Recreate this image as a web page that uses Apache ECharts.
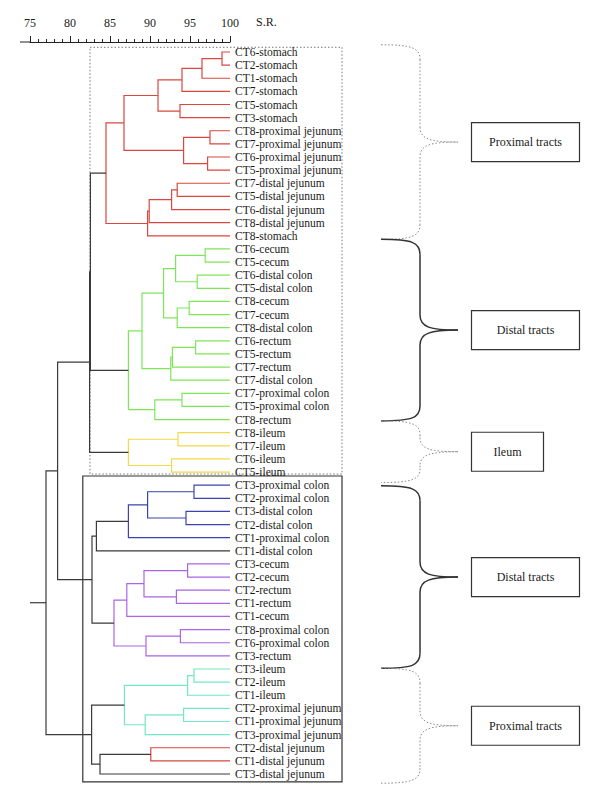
<!DOCTYPE html>
<html><head><meta charset="utf-8">
<script src="https://cdn.jsdelivr.net/npm/echarts@6/dist/echarts.min.js"></script>
<style>html,body{margin:0;padding:0;background:#fff}#c{width:600px;height:805px}</style>
</head><body><div id="c"></div>
<script>
// ---- data ----
const leaves = [
 'CT6-stomach','CT2-stomach','CT1-stomach','CT7-stomach','CT5-stomach','CT3-stomach',
 'CT8-proximal jejunum','CT7-proximal jejunum','CT6-proximal jejunum','CT5-proximal jejunum',
 'CT7-distal jejunum','CT5-distal jejunum','CT6-distal jejunum','CT8-distal jejunum','CT8-stomach',
 'CT6-cecum','CT5-cecum','CT6-distal colon','CT5-distal colon','CT8-cecum','CT7-cecum','CT8-distal colon',
 'CT6-rectum','CT5-rectum','CT7-rectum','CT7-distal colon','CT7-proximal colon','CT5-proximal colon','CT8-rectum',
 'CT8-ileum','CT7-ileum','CT6-ileum','CT5-ileum',
 'CT3-proximal colon','CT2-proximal colon','CT3-distal colon','CT2-distal colon','CT1-proximal colon','CT1-distal colon',
 'CT3-cecum','CT2-cecum','CT2-rectum','CT1-rectum','CT1-cecum','CT8-proximal colon','CT6-proximal colon','CT3-rectum',
 'CT3-ileum','CT2-ileum','CT1-ileum','CT2-proximal jejunum','CT1-proximal jejunum','CT3-proximal jejunum',
 'CT2-distal jejunum','CT1-distal jejunum','CT3-distal jejunum'
];
// [childA, childB, similarity] ; number = leaf index, 'mN' = merge N
const merges = [
 [0,1,99.0],['m0',2,96.5],['m1',3,94.0],[4,5,93.75],['m2','m3',91.0],
 [6,7,97.5],[8,9,97.2],['m5','m6',94.2],['m4','m7',86.75],
 [10,11,93.4],['m9',12,92.7],['m10',13,89.9],['m11',14,89.7],['m8','m12',84.5],
 [15,16,96.9],[17,18,95.9],['m14','m15',93.2],[19,20,94.9],['m17',21,93.4],['m16','m18',91.7],
 [22,23,95.7],['m20',24,92.8],['m21',25,92.6],['m19','m22',89.0],[26,27,94.0],['m24',28,90.6],['m23','m25',87.3],
 ['m13','m26',82.55],
 [29,30,93.5],[31,32,92.7],['m28','m29',87.3],
 ['m27','m30',82.45],
 [33,34,95.5],[35,36,94.5],['m32','m33',89.7],['m34',37,87.3],
 ['m35',38,83.3],
 [39,40,94.7],[41,42,93.3],['m37','m38',89.25],['m39',43,87.1],[44,45,93.8],['m41',46,89.5],['m40','m42',85.5],
 ['m36','m43',82.75],['m31','m44',78.45],
 [47,48,95.5],['m46',49,94.7],[50,51,94.2],['m48',52,89.4],['m47','m49',86.8],
 [53,54,90.1],['m51',55,83.75],['m50','m52',82.7],
 ['m45','m53',77.0]
];
const clusterOfMerge = 'rrrrrrrrrrrrrr' + 'ggggggggggggg' + 'k' + 'yyy' + 'k' + 'bbbb' + 'k' + 'ppppppp' + 'kk' + 'ccccc' + 'r' + 'kkk';
const axisTicks = [75, 80, 85, 90, 95, 100];
const axisName = 'S.R.';
const braceSpans = [[-0.55,14.27],[14.27,28.1],[28.1,32.8],[33.05,46.95],[46.95,55.7]];
const braceLabels = ['Proximal tracts','Distal tracts','Ileum','Distal tracts','Proximal tracts'];

// ---- styles ----
const palette = {r:'#d9473f', g:'#7fe65a', y:'#f2d94a', b:'#3a44b0', p:'#a866e6', c:'#72e8c6', k:'#3a3a3a'};
const braceDotted = [true,false,true,false,true];
const boxWidths = [108,108,72,108,108];
const FONT = '"Liberation Serif","DejaVu Serif",serif';

// ---- tree layout in data space ----
const pos = {};
function childPos(c){ return typeof c === 'number' ? {x:100, y:c} : pos[c]; }
const segData = merges.map((m, i) => {
  const a = childPos(m[0]), b = childPos(m[1]);
  pos['m'+i] = {x:m[2], y:(a.y + b.y)/2};
  return [m[2], a.x, a.y, b.x, b.y, i];
});
const root = pos['m'+(merges.length-1)];

const chart = echarts.init(document.getElementById('c'), null, {renderer:'svg'});
const option = {
  animation:false,
  backgroundColor:'#fff',
  grid:{left:30, right:370, top:52, bottom:31},
  xAxis:{
    type:'value', position:'top', offset:10, min:axisTicks[0], max:axisTicks[axisTicks.length-1], interval:5,
    axisLine:{show:true, onZero:false, lineStyle:{color:'#222', width:1}},
    axisTick:{show:true, length:6, lineStyle:{color:'#222'}},
    minorTick:{show:true, splitNumber:5, length:3, lineStyle:{color:'#222'}},
    splitLine:{show:false}, minorSplitLine:{show:false},
    axisLabel:{margin:13, color:'#222', fontFamily:FONT, fontSize:12}
  },
  yAxis:{type:'value', inverse:true, min:0, max:leaves.length-1, show:false},
  series:[
    {
      type:'custom', clip:false, data:segData,
      renderItem:(params, api) => {
        const d = segData[params.dataIndex];
        const pA = api.coord([d[1], d[2]]), pB = api.coord([d[3], d[4]]);
        const nA = api.coord([d[0], d[2]]), nB = api.coord([d[0], d[4]]);
        return {type:'polyline', shape:{points:[pA, nA, nB, pB]},
          style:{stroke:palette[clusterOfMerge[d[5]]], lineWidth:1.2, fill:null}};
      }
    },
    {
      type:'line', data:[[axisTicks[0], root.y],[root.x, root.y]], symbol:'none',
      lineStyle:{color:palette.k, width:1.2}, silent:true
    },
    {
      type:'custom', clip:false, data:leaves.map((l,i)=>[100,i]),
      renderItem:(params, api) => {
        const p = api.coord([100, params.dataIndex]);
        return {type:'text', x:p[0]+5, y:p[1], style:{text:leaves[params.dataIndex], fill:'#1a1a1a',
          font:'11.5px ' + FONT, verticalAlign:'middle', align:'left'}};
      }
    }
  ]
};
chart.setOption(option);

// ---- annotations (frames, braces, boxes) positioned via the grid's scales ----
const px = (x, y) => chart.convertToPixel({gridIndex:0}, [x, y]);
const g = [];
const a75 = px(75, 0), a100 = px(100, 0);
const axisY = px(75, 0)[1] - 10;
g.push({type:'text', x:a100[0]+26, y:22, style:{text:axisName, font:'12px '+FONT, fill:'#222', verticalAlign:'middle'}});
// frames
const fr1a = px(82.5, -0.36), fr1b = px(114, 32.15);
g.push({type:'rect', shape:{x:fr1a[0], y:fr1a[1], width:fr1b[0]-fr1a[0], height:fr1b[1]-fr1a[1]},
  style:{fill:'none', stroke:'#777', lineWidth:1, lineDash:[1.5,2]}});
const fr2a = px(81.6, 32.3), fr2b = px(114, 55.6);
g.push({type:'rect', shape:{x:fr2a[0], y:fr2a[1], width:fr2b[0]-fr2a[0], height:fr2b[1]-fr2a[1]},
  style:{fill:'none', stroke:'#333', lineWidth:1.2}});
// braces
const x0 = 381, xv = 420, xt = 458, bx = 471.5;
braceSpans.forEach((s, i) => {
  const yT = px(0, s[0])[1], yB = px(0, s[1])[1], yM = (yT + yB)/2;
  const r = Math.min(15, (yM - yT)/2.2);
  const st = braceDotted[i]
    ? {fill:null, stroke:'#888', lineWidth:1, lineDash:[1.5,2]}
    : {fill:null, stroke:'#333', lineWidth:1.5};
  const parts = [
    {type:'bezierCurve', shape:{x1:x0, y1:yT, cpx1:xv-8, cpy1:yT, cpx2:xv, cpy2:yT+3, x2:xv, y2:yT+r}},
    {type:'line', shape:{x1:xv, y1:yT+r, x2:xv, y2:yM-r}},
    {type:'bezierCurve', shape:{x1:xv, y1:yM-r, cpx1:xv, cpy1:yM-3, cpx2:xv+10, cpy2:yM, x2:xt, y2:yM}},
    {type:'bezierCurve', shape:{x1:xt, y1:yM, cpx1:xv+10, cpy1:yM, cpx2:xv, cpy2:yM+3, x2:xv, y2:yM+r}},
    {type:'line', shape:{x1:xv, y1:yM+r, x2:xv, y2:yB-r}},
    {type:'bezierCurve', shape:{x1:xv, y1:yB-r, cpx1:xv, cpy1:yB-3, cpx2:xv-8, cpy2:yB, x2:x0, y2:yB}}
  ];
  parts.forEach(p => { p.style = Object.assign({}, st); g.push(p); });
  const w = boxWidths[i], h = 39;
  g.push({type:'rect', shape:{x:bx, y:yM-h/2, width:w, height:h}, style:{fill:'#fff', stroke:'#333', lineWidth:1.2}});
  g.push({type:'text', x:bx + w/2, y:yM, style:{text:braceLabels[i], font:'12px '+FONT, fill:'#1a1a1a', align:'center', verticalAlign:'middle'}});
});
// axis line extension to the left of 75
g.push({type:'line', shape:{x1:a75[0]-10, y1:axisY, x2:a75[0], y2:axisY}, style:{stroke:'#222', lineWidth:1}});
chart.setOption({graphic:g});
</script></body></html>
